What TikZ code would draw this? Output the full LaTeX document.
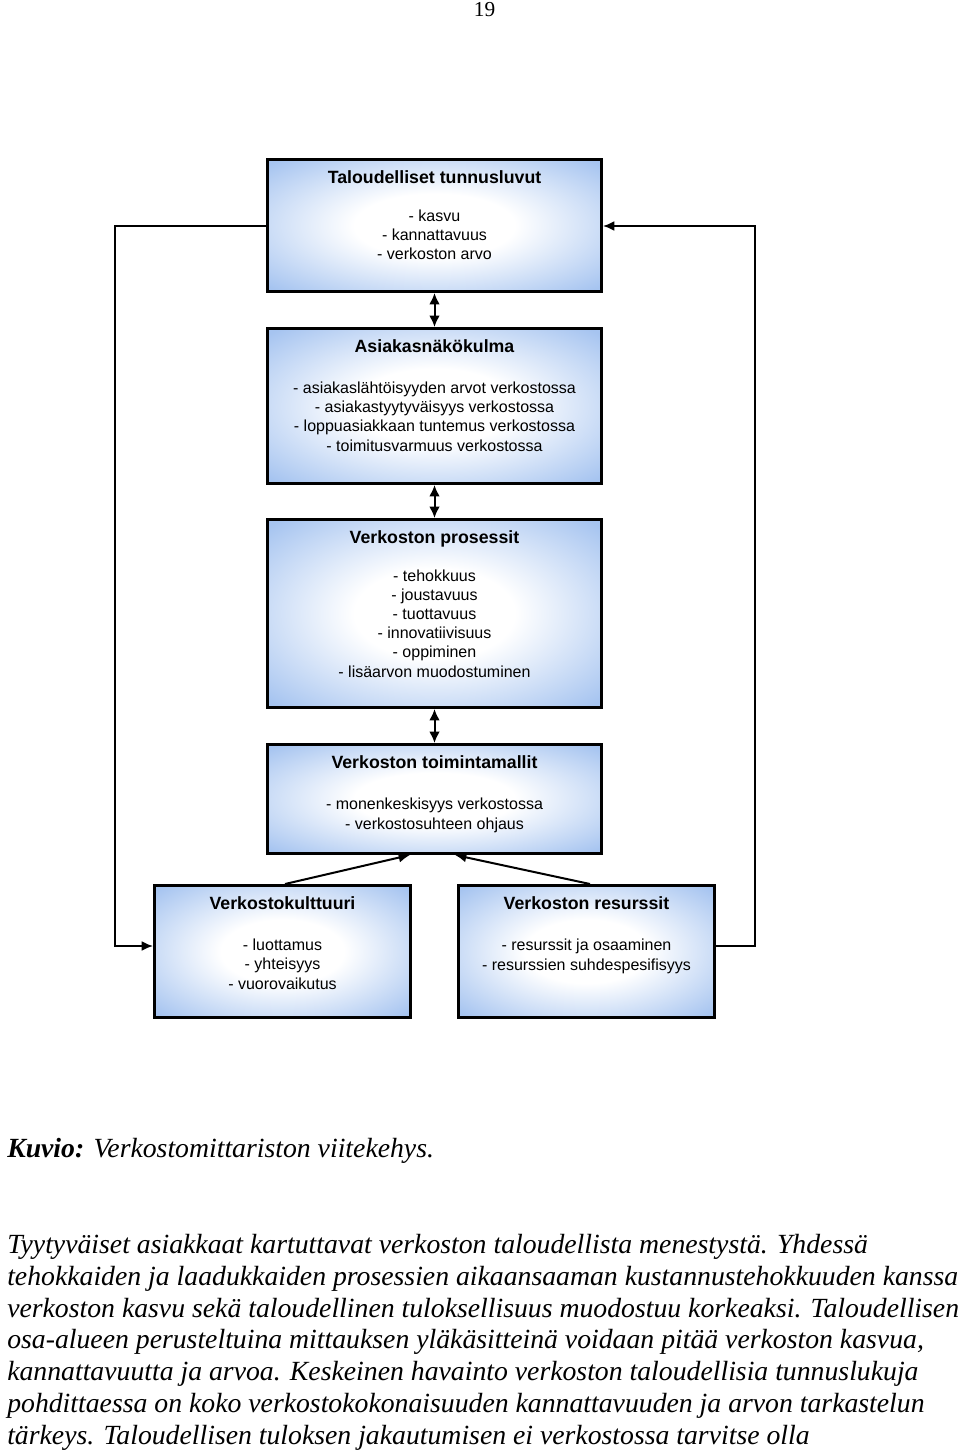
\documentclass[tikz,border=0pt]{standalone}
\usepackage{fontspec}
\setmainfont{Liberation Serif}
\newfontfamily\laatikkofont{Liberation Sans}
\usepackage{tikz}
\usetikzlibrary{positioning}
\usetikzlibrary{calc}
\usetikzlibrary{arrows.meta}
\definecolor{laatikkosin}{RGB}{166,196,240}
\pgfdeclareradialshading{laatikkovarjo}{\pgfpoint{0bp}{0bp}}{color(0bp)=(white); color(12bp)=(white); color(34bp)=(laatikkosin); color(50bp)=(laatikkosin)}
\tikzset{laatikko/.style 2 args={draw,line width=2.25pt,shade,shading=laatikkovarjo,minimum width=#1*0.75pt,minimum height=#2*0.75pt,inner sep=0pt},
otsikko/.style={font=\laatikkofont\bfseries\fontsize{13.3}{16}\selectfont,anchor=base,inner sep=0pt},
kohdat/.style={font=\laatikkofont\fontsize{12}{14.3}\selectfont,align=center,anchor=base,inner sep=0pt},
nuoli/.style={line width=1.5pt,-{Latex[length=8.5pt,width=7.5pt]}},
kaksinuoli/.style={line width=1.5pt,{Latex[length=8.5pt,width=8pt]}-{Latex[length=8.5pt,width=8pt]}}}

\begin{document}
\begin{tikzpicture}[x=0.75pt,y=-0.75pt]
\useasboundingbox (0,0) rectangle (960,1451);
\node[anchor=base,inner sep=0pt,font=\fontsize{16}{19}\selectfont] (sivu) at (484.5,17) {19};
% laatikot
\node[laatikko={334}{132}] (talous) at (434.5,225.5) {};
\node[laatikko={334}{155}] (asiakas) at (434.5,406) {};
\node[laatikko={334}{188}] (prosessit) at (434.5,613.5) {};
\node[laatikko={334}{109}] (toiminta) at (434.5,799) {};
\node[laatikko={256}{132}] (kulttuuri) at (282.5,951.5) {};
\node[laatikko={256}{132}] (resurssit) at (586.5,951.5) {};
% tekstit (kohdat: viimeisen rivin perusviiva)
\node[otsikko] (talous otsikko) at (434.5,184) {Taloudelliset tunnusluvut};
\node[kohdat] (talous kohdat) at (434.5,260) {- kasvu\\- kannattavuus\\- verkoston arvo};
\node[otsikko] (asiakas otsikko) at (434.5,352) {Asiakasnäkökulma};
\node[kohdat] (asiakas kohdat) at (434.5,451) {- asiakaslähtöisyyden arvot verkostossa\\- asiakastyytyväisyys verkostossa\\- loppuasiakkaan tuntemus verkostossa\\- toimitusvarmuus verkostossa};
\node[otsikko] (prosessit otsikko) at (434.5,543) {Verkoston prosessit};
\node[kohdat] (prosessit kohdat) at (434.5,677) {- tehokkuus\\- joustavuus\\- tuottavuus\\- innovatiivisuus\\- oppiminen\\- lisäarvon muodostuminen};
\node[otsikko] (toiminta otsikko) at (434.5,768) {Verkoston toimintamallit};
\node[kohdat] (toiminta kohdat) at (434.5,829) {- monenkeskisyys verkostossa\\- verkostosuhteen ohjaus};
\node[otsikko] (kulttuuri otsikko) at (282.5,909) {Verkostokulttuuri};
\node[kohdat] (kulttuuri kohdat) at (282.5,989) {- luottamus\\- yhteisyys\\- vuorovaikutus};
\node[otsikko] (resurssit otsikko) at (586.5,909) {Verkoston resurssit};
\node[kohdat] (resurssit kohdat) at (586.5,970) {- resurssit ja osaaminen\\- resurssien suhdespesifisyys};
% nuolet
\draw[kaksinuoli] (talous) -- (asiakas);
\draw[kaksinuoli] (asiakas) -- (prosessit);
\draw[kaksinuoli] (prosessit) -- (toiminta);
\draw[nuoli] ([xshift=1.9pt]kulttuuri.north) -- ([xshift=-18.4pt]toiminta.south);
\draw[nuoli] ([xshift=2.6pt]resurssit.north) -- ([xshift=15.4pt]toiminta.south);
\coordinate (vasen yla) at (115,226);
\coordinate (vasen ala) at (115,946);
\coordinate (oikea yla) at (755,226);
\coordinate (oikea ala) at (755,946);
\draw[nuoli] (talous.west |- vasen yla) -- (vasen yla) -- (vasen ala) -- (kulttuuri.west |- vasen ala);
\draw[nuoli] (resurssit.east |- oikea ala) -- (oikea ala) -- (oikea yla) -- (talous.east |- oikea yla);
% kuvateksti ja leipateksti
\node[anchor=base west,inner sep=0pt,font=\fontsize{20.8}{24}\selectfont] (kuvio) at (7,1157) {\textbf{\textit{Kuvio:}} \textit{Verkostomittariston viitekehys.}};
\node[anchor=base west,inner sep=0pt,align=left,font=\itshape\fontsize{20.8}{23.8}\selectfont] (leipa) at (7,1444) {Tyytyväiset asiakkaat kartuttavat verkoston taloudellista menestystä. Yhdessä\\tehokkaiden ja laadukkaiden prosessien aikaansaaman kustannustehokkuuden kanssa\\verkoston kasvu sekä taloudellinen tuloksellisuus muodostuu korkeaksi. Taloudellisen\\osa-alueen perusteltuina mittauksen yläkäsitteinä voidaan pitää verkoston kasvua,\\kannattavuutta ja arvoa. Keskeinen havainto verkoston taloudellisia tunnuslukuja\\pohdittaessa on koko verkostokokonaisuuden kannattavuuden ja arvon tarkastelun\\tärkeys. Taloudellisen tuloksen jakautumisen ei verkostossa tarvitse olla};
\end{tikzpicture}
\end{document}
